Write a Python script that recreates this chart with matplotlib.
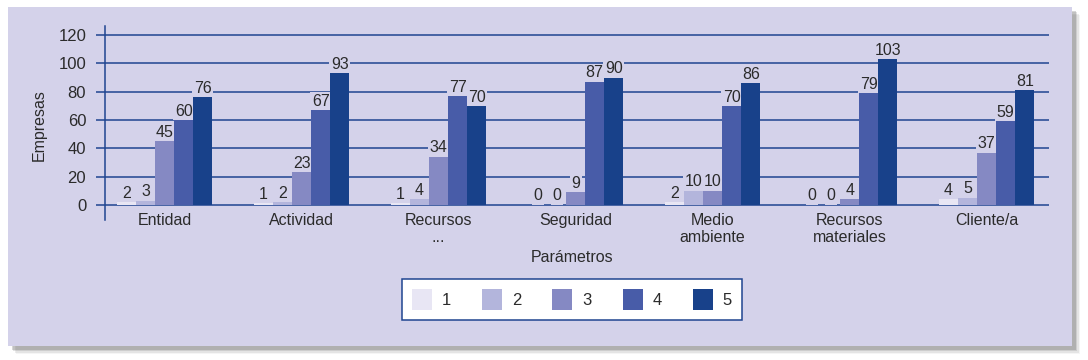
import matplotlib.pyplot as plt
import numpy as np
from matplotlib.patches import Rectangle

plt.rcParams['font.family'] = ['Liberation Sans', 'DejaVu Sans']

# datos
categorias = ["Entidad", "Actividad", "Recursos\n...", "Seguridad",
              "Medio\nambiente", "Recursos\nmateriales", "Cliente/a"]
serie_1 = [2, 1, 1, 0, 2, 0, 4]
serie_2 = [3, 2, 4, 0, 10, 0, 5]
serie_3 = [45, 23, 34, 9, 10, 4, 37]
serie_4 = [60, 67, 77, 87, 70, 79, 59]
serie_5 = [76, 93, 70, 90, 86, 103, 81]
nombres = ["1", "2", "3", "4", "5"]

colores = ["#E8E6F4", "#B3B5DC", "#8589C3", "#485CA8", "#18418A"]
fondo = "#D4D2EA"
azul = "#1F4590"
texto = "#2b2b2b"

W, H = 1088, 360
fig = plt.figure(figsize=(W / 100, H / 100), dpi=100, facecolor="white")

# sombra difusa + panel lavanda (detras de los ejes)
for i, a in enumerate([0.06, 0.10, 0.16, 0.24]):
    off = 8 - i * 1.5
    fig.patches.append(Rectangle(((8 + off) / W, 1 - (346 + off) / H),
                                 1064 / W, 339 / H, transform=fig.transFigure,
                                 facecolor="#555555", alpha=a, edgecolor="none", zorder=-3))
fig.patches.append(Rectangle((8 / W, 1 - 346 / H), 1064 / W, 339 / H,
                             transform=fig.transFigure, facecolor=fondo,
                             edgecolor="none", zorder=-2))

ax = fig.add_axes([105 / W, 1 - 220 / H, 944 / W, 194 / H])
ax.set_facecolor("none")

x = np.arange(len(categorias))
ancho = 0.139
series = [serie_1, serie_2, serie_3, serie_4, serie_5]
for k, s in enumerate(series):
    b = ax.bar(x + (k - 2) * ancho, s, ancho, color=colores[k], label=nombres[k], zorder=3)
    # etiquetas detras de las barras, tapando solo la rejilla
    ax.bar_label(b, padding=1, fontsize=11.5, color=texto, zorder=2.5,
                 bbox=dict(facecolor=fondo, edgecolor="none", pad=1.2))

ax.set_ylim(-10.7, 126.5)
ax.set_xlim(-0.435, 6.455)
ax.set_yticks(range(0, 121, 20))
ax.yaxis.grid(True, color=azul, linewidth=1.1, zorder=0)
ax.set_axisbelow(True)
for sp in ["top", "right", "bottom"]:
    ax.spines[sp].set_visible(False)
ax.spines["left"].set_color(azul)
ax.spines["left"].set_linewidth(1.1)
ax.tick_params(axis="y", direction="out", length=6.5, width=1.1, color=azul,
               labelsize=12, labelcolor=texto, pad=7)
ax.set_xticks(x)
ax.set_xticklabels(categorias)
ax.tick_params(axis="x", length=0, labelsize=11.5, labelcolor=texto, pad=-5)

ax.set_ylabel("Empresas", fontsize=11.5, color=texto)
ax.yaxis.set_label_coords(-0.062, 0.49)
ax.set_xlabel("Parámetros", fontsize=11.5, color=texto, va="center")
ax.xaxis.set_label_coords((572 - 105) / 944, -38 / 194)

leg = fig.legend(loc="center", bbox_to_anchor=(572 / W, 1 - 299.5 / H), ncol=5,
                 fontsize=12, frameon=True, fancybox=False, framealpha=1,
                 edgecolor=azul, handlelength=1.2, handleheight=1.5,
                 handletextpad=0.6, columnspacing=1.85, borderpad=0.6,
                 labelcolor=texto)
leg.get_frame().set_linewidth(1.1)

fig.savefig("out.png", dpi=100, facecolor="white")
